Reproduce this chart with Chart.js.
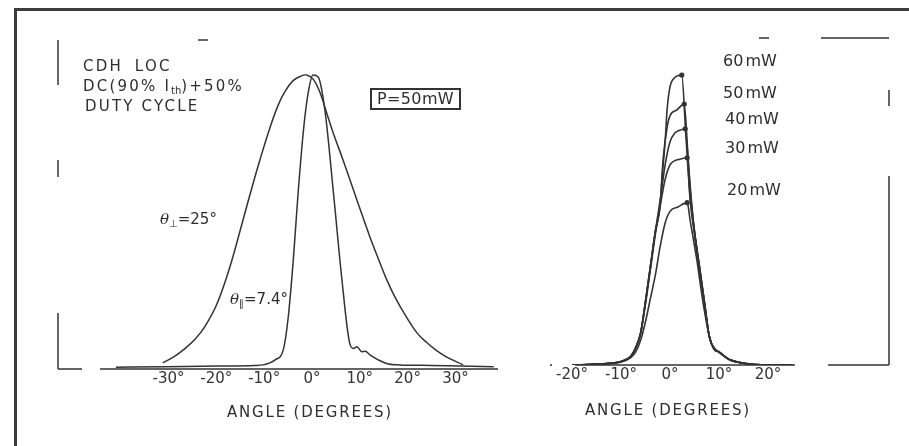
<!DOCTYPE html>
<html>
<head>
<meta charset="utf-8">
<script src="https://cdn.jsdelivr.net/npm/chart.js@4.4.1/dist/chart.umd.min.js"></script>
<style>
    html, body { margin: 0; padding: 0; background: #fff; }
    #wrap { position: relative; width: 909px; height: 446px; overflow: hidden;
            font-family: "DejaVu Sans", sans-serif; color: #2e2e2e; }
    #frame { position: absolute; left: 14px; top: 8px; width: 920px; height: 460px;
             border-left: 3px solid #3c3c3c; border-top: 3px solid #3c3c3c; }
    canvas { position: absolute; top: 0; }
    #leftChart { left: 0; }
    #rightChart { left: 520px; }
    .t { position: absolute; white-space: nowrap; line-height: 1; }
    .note { font-size: 15px; letter-spacing: 2.2px; }
    .pw { font-size: 16px; word-spacing: -3px; }
    .axis { font-size: 15px; letter-spacing: 1.8px; }
    .th { font-size: 15px; }
    .th i { font-family: "DejaVu Serif", serif; }
    sub { font-size: 10px; vertical-align: -3px; letter-spacing: 0; }
    #pbox { left: 370px; top: 88px; width: 87px; height: 18px; border: 2px solid #333;
            font-size: 16px; line-height: 18px; text-align: center; letter-spacing: 0.4px; }
</style>
</head>
<body>
<div id="wrap">
    <div id="frame"></div>
    <canvas id="leftChart" width="520" height="446"></canvas>
    <canvas id="rightChart" width="389" height="446"></canvas>

    <div class="t note" style="left:83px; top:59px; word-spacing:5px;">CDH LOC</div>
    <div class="t note" style="left:83px; top:79px;">DC(90% I<sub>th</sub>)+50%</div>
    <div class="t note" style="left:85px; top:99px;">DUTY CYCLE</div>
    <div class="t" id="pbox">P=50mW</div>
    <div class="t th" style="left:160px; top:212px;"><i>θ</i><sub>⊥</sub>=25°</div>
    <div class="t th" style="left:230px; top:292px;"><i>θ</i><sub>∥</sub>=7.4°</div>

    <div class="t pw" style="left:723px; top:53px;">60 mW</div>
    <div class="t pw" style="left:723px; top:85px;">50 mW</div>
    <div class="t pw" style="left:725px; top:111px;">40 mW</div>
    <div class="t pw" style="left:725px; top:140px;">30 mW</div>
    <div class="t pw" style="left:727px; top:182px;">20 mW</div>

    <div class="t axis" style="left:227px; top:405px;">ANGLE (DEGREES)</div>
    <div class="t axis" style="left:585px; top:403px;">ANGLE (DEGREES)</div>
</div>
<script>
    // Tick labels (degrees)
    const leftTicks = [-30, -20, -10, 0, 10, 20, 30];
    const rightTicks = [-20, -10, 0, 10, 20];

    // Left panel, P = 50 mW: perpendicular (theta_perp = 25 deg) far field
    const perpAngles = [-31.2, -29, -26.9, -24.5, -22.4, -19.9, -17.2, -14.7, -12.5, -10.9, -8.8, -7, -5.6, -4, -2.5, -1.1, 0.3, 1.7, 2.7, 4.5, 6.5, 9.4, 12.1, 14, 15.6, 17.5, 19.7, 22, 24, 26, 28, 31.6];
    const perpValues = [0.021, 0.04, 0.065, 0.1, 0.144, 0.22, 0.345, 0.49, 0.62, 0.71, 0.82, 0.9, 0.945, 0.98, 0.995, 1.0, 0.985, 0.94, 0.89, 0.8, 0.711, 0.575, 0.45, 0.37, 0.305, 0.24, 0.178, 0.122, 0.09, 0.063, 0.042, 0.014];

    // Left panel: parallel (theta_par = 7.4 deg) far field
    const parAngles = [-41, -31, -20, -12, -10.2, -7.7, -6, -5, -3.9, -2.9, -1.7, -0.8, 0.2, 1.3, 2.7, 4.5, 6.2, 7.9, 8.7, 9.4, 10.4, 11.2, 12.1, 15.6, 18.4, 25, 31, 38];
    const parValues = [0.006, 0.008, 0.01, 0.012, 0.014, 0.031, 0.065, 0.17, 0.371, 0.598, 0.824, 0.938, 1.0, 0.993, 0.881, 0.598, 0.314, 0.087, 0.07, 0.076, 0.059, 0.06, 0.048, 0.019, 0.014, 0.012, 0.01, 0.008];

    // Right panel: parallel far field vs output power
    const powerLabels = ['60 mW', '50 mW', '40 mW', '30 mW', '20 mW'];
    const angles60 = [-20, -14, -10, -8, -7, -6, -5, -4, -3, -2, -1.6, -1, -0.6, 0, 0.6, 2.4, 3.2, 4, 5, 6, 7, 8, 9, 10, 12, 15, 20, 25];
    const values60 = [0, 0.004, 0.012, 0.03, 0.06, 0.11, 0.22, 0.34, 0.46, 0.55, 0.65, 0.77, 0.88, 0.96, 0.985, 1.0, 0.8, 0.6, 0.46, 0.34, 0.22, 0.1, 0.055, 0.045, 0.02, 0.006, 0, 0];
    const angles50 = [-20, -14, -10, -8, -7, -6, -5, -4, -3, -2, -1.4, -0.6, 0, 1.4, 2.9, 3.6, 4.2, 5, 6, 7, 8, 9, 10, 12, 15, 20, 25];
    const values50 = [0, 0.004, 0.012, 0.03, 0.06, 0.11, 0.22, 0.34, 0.46, 0.56, 0.71, 0.82, 0.86, 0.88, 0.9, 0.74, 0.59, 0.46, 0.34, 0.22, 0.1, 0.055, 0.045, 0.02, 0.006, 0, 0];
    const angles40 = [-20, -14, -10, -8, -7, -6, -5, -4, -3, -2, -1, 0, 1, 2, 3.1, 3.8, 4.4, 5, 6, 7, 8, 9, 10, 12, 15, 20, 25];
    const values40 = [0, 0.004, 0.012, 0.03, 0.06, 0.11, 0.22, 0.34, 0.46, 0.57, 0.69, 0.77, 0.8, 0.81, 0.815, 0.68, 0.56, 0.46, 0.34, 0.22, 0.1, 0.055, 0.045, 0.02, 0.006, 0, 0];
    const angles30 = [-20, -14, -10, -8, -7, -6, -5, -4, -3, -2, -1, 0, 1, 2, 3.5, 4.1, 5, 6, 7, 8, 9, 10, 12, 15, 20, 25];
    const values30 = [0, 0.004, 0.012, 0.03, 0.06, 0.11, 0.21, 0.33, 0.45, 0.55, 0.64, 0.69, 0.705, 0.71, 0.715, 0.57, 0.45, 0.33, 0.21, 0.1, 0.055, 0.045, 0.02, 0.006, 0, 0];
    const angles20 = [-20, -14, -10, -8, -7, -6, -5, -4, -3, -2, -1, 0, 1.6, 3.5, 4.1, 5, 5.5, 6.7, 8.2, 9, 10.2, 12, 15, 20, 25];
    const values20 = [0, 0.003, 0.01, 0.025, 0.045, 0.085, 0.15, 0.23, 0.31, 0.41, 0.49, 0.53, 0.545, 0.56, 0.5, 0.41, 0.36, 0.22, 0.086, 0.06, 0.041, 0.02, 0.007, 0, 0];

    const zip = (xs, ys) => xs.map((x, i) => ({ x: x, y: ys[i] }));
    const ink = '#333';
    const tickFont = { family: '"DejaVu Sans", sans-serif', size: 15 };

    // Broken plot frame, as in the scanned original. Dash patterns run
    // left->right (top/bottom) and top->bottom (left/right).
    const brokenFrame = {
        id: 'brokenFrame',
        afterDraw(chart, args, opts) {
            const { ctx, chartArea: a } = chart;
            const edges = {
                top: [a.left, a.top, a.right, a.top],
                bottom: [a.left, a.bottom, a.right, a.bottom],
                left: [a.left, a.top, a.left, a.bottom],
                right: [a.right, a.top, a.right, a.bottom]
            };
            ctx.save();
            ctx.strokeStyle = ink;
            ctx.lineWidth = 1.5;
            Object.keys(edges).forEach((k) => {
                if (!opts[k]) return;
                const [x1, y1, x2, y2] = edges[k];
                ctx.setLineDash(opts[k]);
                ctx.beginPath();
                ctx.moveTo(x1, y1);
                ctx.lineTo(x2, y2);
                ctx.stroke();
            });
            ctx.restore();
        }
    };

    function angleAxis(min, max, tickValues) {
        return {
            type: 'linear',
            position: 'bottom',
            min: min,
            max: max,
            afterBuildTicks: (s) => { s.ticks = tickValues.map(v => ({ value: v })); },
            afterFit: (s) => { s.height = 30; },
            grid: { display: false, drawTicks: false },
            border: { display: false },
            ticks: {
                padding: 1,
                autoSkip: false,
                maxRotation: 0,
                color: ink,
                font: tickFont,
                callback: (v) => v + '°'
            }
        };
    }

    const baseOptions = {
        responsive: false,
        animation: false,
        elements: {
            point: { radius: 0 },
            line: { borderWidth: 1.5, borderColor: ink, cubicInterpolationMode: 'monotone', fill: false }
        }
    };

    // Left panel: both far-field patterns at P = 50 mW
    new Chart(document.getElementById('leftChart'), {
        type: 'line',
        data: {
            datasets: [
                {
                    label: 'θ⊥ = 25°', data: zip(perpAngles, perpValues), borderColor: ink,
                    cubicInterpolationMode: 'default', tension: 0.4
                },
                { label: 'θ∥ = 7.4°', data: zip(parAngles, parValues), borderColor: ink }
            ]
        },
        plugins: [brokenFrame],
        options: Object.assign({}, baseOptions, {
            layout: { padding: { left: 58, right: 22, top: 40, bottom: 47 } },
            plugins: {
                legend: { display: false },
                tooltip: { enabled: false },
                brokenFrame: {
                    top: [0, 140, 10, 1000],
                    left: [45, 75, 17, 136, 80],
                    bottom: [24, 18, 1000]
                }
            },
            scales: {
                x: angleAxis(-53.1, 38.9, leftTicks),
                y: { display: false, min: 0, max: 1.119 }
            }
        })
    });

    // Right panel: parallel pattern for several powers
    const powerSeries = [
        zip(angles60, values60), zip(angles50, values50), zip(angles40, values40),
        zip(angles30, values30), zip(angles20, values20)
    ];

    new Chart(document.getElementById('rightChart'), {
        type: 'line',
        data: {
            datasets: powerSeries.map((pts, i) => ({
                label: powerLabels[i],
                data: pts,
                borderColor: ink,
                borderWidth: 1.6,
                pointBackgroundColor: ink,
                pointBorderWidth: 0,
                pointRadius: (ctx) => {
                    const peak = Math.max(...pts.map(p => p.y));
                    return ctx.raw && ctx.raw.y === peak ? 2.6 : 0;
                }
            }))
        },
        plugins: [brokenFrame],
        options: Object.assign({}, baseOptions, {
            layout: { padding: { left: 30, right: 20, top: 38, bottom: 51 } },
            plugins: {
                legend: { display: false },
                tooltip: { enabled: false },
                brokenFrame: {
                    top: [0, 209, 10, 52, 65],
                    right: [0, 52, 16, 70, 220],
                    bottom: [2, 23, 220, 33, 80]
                }
            },
            scales: {
                x: angleAxis(-24.5, 44.7, rightTicks),
                y: { display: false, min: 0, max: 1.128 }
            }
        })
    });
</script>
</body>
</html>
